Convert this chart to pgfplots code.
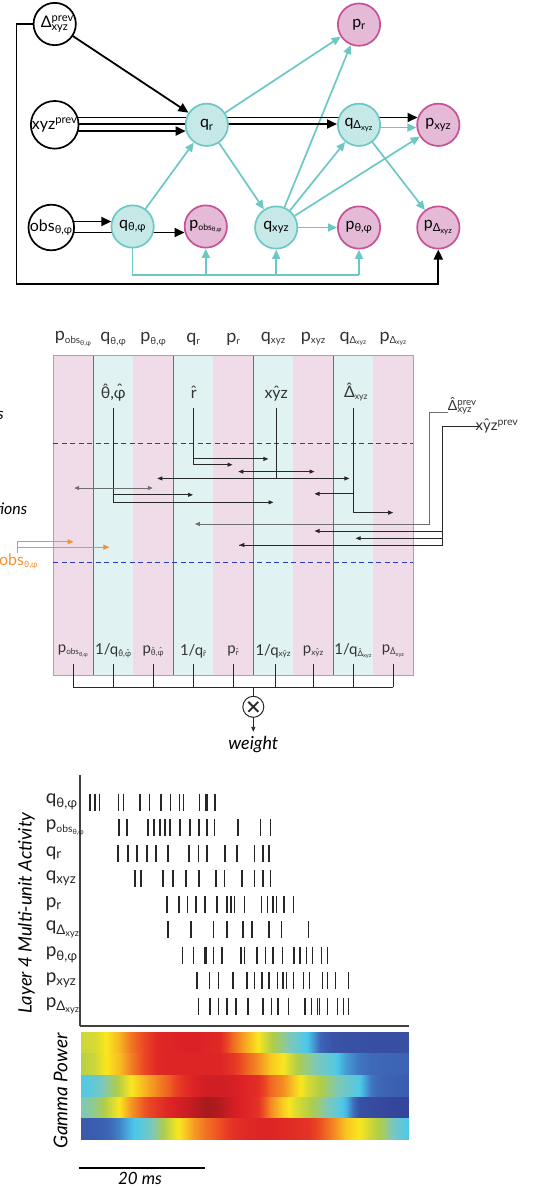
\documentclass[border=0pt]{standalone}
\usepackage{pgfplots}
\pgfplotsset{compat=1.18}
\usepackage{pgfplotstable}
\usepackage{graphicx}
\usetikzlibrary{arrows.meta,shapes.misc}
\usepackage{fontspec}
\setmainfont{Lato}
\newcommand\fs[1]{\fontsize{#1}{#1}\selectfont}
\newcommand\hh[2][0.2em]{\ooalign{#2\cr\hidewidth\raisebox{#1}{ˆ}\hidewidth\cr}}
\newcommand\sub[1]{\textsubscript{#1}}
\newcommand\tsub[1]{\scalebox{0.78}{\textsubscript{#1}}}
\newcommand\sups[1]{\textsuperscript{#1}}

\definecolor{tealline}{RGB}{108,200,198}
\definecolor{tealfill}{RGB}{198,232,230}
\definecolor{pinkline}{RGB}{200,80,150}
\definecolor{pinkfill}{RGB}{228,186,214}
\definecolor{colpink}{RGB}{240,220,232}
\definecolor{colteal}{RGB}{224,242,241}
\definecolor{dashc}{RGB}{40,60,180}
\definecolor{orng}{RGB}{245,145,45}
\definecolor{dk}{RGB}{40,40,40}
\definecolor{gy}{RGB}{110,110,110}

\pgfplotsset{colormap={gp}{rgb255(0pt)=(40,50,135) rgb255(10pt)=(55,75,160) rgb255(20pt)=(62,105,185) rgb255(35pt)=(75,200,235) rgb255(45pt)=(125,200,185) rgb255(52pt)=(175,205,75) rgb255(60pt)=(250,230,30) rgb255(70pt)=(245,150,35) rgb255(80pt)=(235,70,35) rgb255(88pt)=(220,32,38) rgb255(100pt)=(140,22,25)}}

\tikzset{
 gnode/.style={circle, minimum size=42.3bp, inner sep=0pt, line width=1.7bp, font=\fs{16}},
 qn/.style={gnode, draw=tealline, fill=tealfill},
 pn/.style={gnode, draw=pinkline, fill=pinkfill},
 wn/.style={gnode, draw=black, fill=white},
 ghost/.style={circle, minimum size=44bp, inner sep=0pt, outer sep=0pt},
 ta/.style={draw=tealline, line width=1.7bp, -{Triangle[length=9bp,width=8bp,fill=tealline]}},
 ba/.style={draw=black, line width=1.8bp, -{Triangle[length=10bp,width=9bp]}},
 ln/.style={draw=dk, line width=0.9bp},
 sa/.style={ln, -{Triangle[length=5bp,width=4bp]}},
 sd/.style={ln, {Triangle[length=5bp,width=4bp]}-{Triangle[length=5bp,width=4bp]}},
 spk/.style={only marks, mark=|, mark size=8.5bp, mark options={line width=1.1bp, draw=black!85}},
}

\pgfplotstableread{
t r1 r2 r3 r4 r5
0 0.55 0.53 0.36 0.45 0.15
2 0.56 0.55 0.40 0.48 0.16
4 0.60 0.60 0.47 0.53 0.18
6 0.66 0.65 0.53 0.60 0.24
8 0.74 0.73 0.60 0.70 0.33
10 0.80 0.80 0.66 0.78 0.40
12 0.86 0.86 0.72 0.83 0.48
14 0.87 0.87 0.77 0.87 0.55
16 0.88 0.87 0.84 0.90 0.62
18 0.88 0.87 0.88 0.93 0.70
20 0.87 0.87 0.90 0.96 0.75
22 0.86 0.87 0.90 0.94 0.79
24 0.76 0.84 0.89 0.90 0.84
26 0.68 0.77 0.87 0.87 0.86
28 0.60 0.71 0.85 0.84 0.87
30 0.53 0.64 0.76 0.72 0.87
32 0.48 0.60 0.71 0.63 0.86
34 0.42 0.53 0.63 0.57 0.85
36 0.34 0.48 0.56 0.53 0.84
38 0.18 0.43 0.52 0.48 0.78
40 0.13 0.38 0.47 0.42 0.72
42 0.12 0.28 0.42 0.32 0.64
44 0.12 0.22 0.36 0.12 0.60
46 0.11 0.20 0.22 0.10 0.55
48 0.11 0.19 0.18 0.09 0.50
50 0.11 0.18 0.17 0.08 0.42
52 0.12 0.18 0.16 0.08 0.35
}\heat
\pgfplotstablevertcat{\heatdbl}{\heat}
\pgfplotstablevertcat{\heatdbl}{\heat}

\begin{document}
\begin{tikzpicture}
\useasboundingbox (0,0) rectangle (536bp,1188bp);
\begin{axis}[at={(0,0)}, anchor=south west, scale only axis, width=536bp, height=1188bp,
  xmin=0, xmax=536, ymin=0, ymax=1188, y dir=reverse, hide axis, clip=false]
% ---------------- top panel ----------------
\node[ghost] (Dp) at (54.7,24) {};
\node[ghost] (xp) at (54.7,124.8) {};
\node[ghost] (ob) at (51.3,227.5) {};
\node[ghost] (qt) at (132.6,226.5) {};
\node[ghost] (po) at (205.8,226.5) {};
\node[ghost] (qr) at (206.8,124.8) {};
\node[ghost] (qx) at (276.2,227.5) {};
\node[ghost] (pr) at (359,24.6) {};
\node[ghost] (qd) at (359,124.8) {};
\node[ghost] (pt) at (359,227.5) {};
\node[ghost] (px) at (438.3,124.8) {};
\node[ghost] (pd) at (438.3,227.5) {};
\draw[ba] (54.7,24) -| (16.4,283.8) -| (438.3,249.5);
\draw[tealline, line width=1.7bp] (132.6,226.5) |- (359,275.2);
\draw[ta] (205.8,275.2) -- (205.8,248.8);
\draw[ta] (276.2,275.2) -- (276.2,249.8);
\draw[ta] (359,275.2) -- (359,249.8);
\draw[ta] (qt) -- (qr);
\draw[ta] (qr) -- (pr);
\draw[ta] (qr) -- (qx);
\draw[ta] (qx) -- (pr);
\draw[ta] (qx) -- (qd);
\draw[ta] (qx) -- (px);
\draw[ta] (qx) -- (pt);
\draw[ta] (qd) -- (pd);
\draw[ta] (359,127.6) -- (416.4,127.6);
\draw[ba] (Dp) -- (qr);
\draw[ba] (54.7,131) -- (185.7,131);
\draw[ba] (54.7,124) -- (337,124);
\draw[ba] (54.7,117.5) -- (417.5,117.5);
\draw[ba] (51.3,221.5) -- (111.3,221.5);
\draw[ba] (51.3,232.5) -- (184.5,232.5);
\node[wn] at (54.7,24) {Δ\rlap{\sups{prev}}\sub{xyz}};
\node[wn] at (54.7,124.8) {xyz\sups{prev}};
\node[wn] at (51.3,227.5) {obs\sub{θ,φ}};
\node[qn] at (132.6,226.5) {q\sub{θ,φ}};
\node[pn] at (205.8,226.5) {p\tsub{obs\sub{θ,φ}}};
\node[qn] at (206.8,124.8) {q\sub{r}};
\node[qn] at (276.2,227.5) {q\sub{xyz}};
\node[pn] at (359,24.6) {p\sub{r}};
\node[qn] at (359,124.8) {q\sub{Δ\sub{xyz}}};
\node[pn] at (359,227.5) {p\sub{θ,φ}};
\node[pn] at (438.3,124.8) {p\sub{xyz}};
\node[pn] at (438.3,227.5) {p\sub{Δ\sub{xyz}}};
% ---------------- middle panel ----------------
\fill[colpink] (53.3,355) rectangle (93.3,675);
\fill[colteal] (93.3,355) rectangle (133.3,675);
\fill[colpink] (133.3,355) rectangle (173.3,675);
\fill[colteal] (173.3,355) rectangle (213.3,675);
\fill[colpink] (213.3,355) rectangle (253.3,675);
\fill[colteal] (253.3,355) rectangle (293.3,675);
\fill[colpink] (293.3,355) rectangle (333.3,675);
\fill[colteal] (333.3,355) rectangle (373.3,675);
\fill[colpink] (373.3,355) rectangle (413.3,675);
\draw[gy, line width=0.8bp] (93.3,355) -- (93.3,675);
\draw[gy, line width=0.8bp] (173.3,355) -- (173.3,675);
\draw[gy, line width=0.8bp] (253.3,355) -- (253.3,675);
\draw[gy, line width=0.8bp] (333.3,355) -- (333.3,675);
\draw[black!35, line width=0.9bp] (53.3,355) rectangle (413.3,675);
\draw[dashc, line width=0.9bp, dash pattern=on 5bp off 3.5bp] (53.3,443.3) -- (413.3,443.3);
\draw[dashc, line width=0.9bp, dash pattern=on 5bp off 3.5bp] (53.3,562.3) -- (413.3,562.3);
\begin{scope}[every node/.style={font=\fs{18}, text=black!80}]
\node at (73.3,339) {p\tsub{obs\sub{θ,φ}}};
\node at (113.3,339) {q\tsub{θ,φ}};
\node at (153.3,339) {p\tsub{θ,φ}};
\node at (193.3,339) {q\tsub{r}};
\node at (233.3,339) {p\tsub{r}};
\node at (273.3,339) {q\tsub{xyz}};
\node at (313.3,339) {p\tsub{xyz}};
\node at (353.3,339) {q\tsub{Δ\sub{xyz}}};
\node at (393.3,339) {p\tsub{Δ\sub{xyz}}};
\end{scope}
\begin{scope}[every node/.style={font=\fs{16}, text=black!80}]
\node at (113.3,394) {\hh{θ},\hh{φ}};
\node at (193.8,394) {\hh[0.05em]{r}};
\node at (276.2,394) {x\hh[0.05em]{y}z};
\node at (356,394) {\hh{Δ}\tsub{xyz}};
\end{scope}
\draw[ln] (113.3,408) -- (113.3,502.3);
\draw[sa] (113.3,494.8) -- (193,494.8);
\draw[sa] (113.3,502.3) -- (273.5,502.3);
\draw[ln] (193.8,408) -- (193.8,464.7);
\draw[sa] (193.8,458.9) -- (268.4,458.9);
\draw[sa] (193.8,464.7) -- (232.5,464.7);
\draw[ln] (276.2,408) -- (276.2,478.4);
\draw[sd] (238.3,471.6) -- (314.5,471.6);
\draw[sd] (157.3,478.4) -- (349.4,478.4);
\draw[ln] (353.8,408) -- (353.8,512.6);
\draw[sa] (353.8,493.8) -- (314.5,493.8);
\draw[sa] (353.8,512.6) -- (393.2,512.6);
\draw[sd, draw=gy] (74.2,488) -- (152.8,488);
% right inputs
\node[font=\fs{14}, text=black!80] at (460,407) {\hh{Δ}\rlap{\sups{prev}}\sub{xyz}};
\node[font=\fs{15}, text=black!80] at (497,425) {x\hh[0.05em]{y}z\sups{prev}};
\draw[sa, draw=gy] (448.3,412.3) -| (429.3,524) -- (194.9,524);
\draw[ln] (480,426.7) -| (442.7,545) -- (239.3,545);
\draw[sa] (442.7,531) -- (314.5,531);
\draw[sa] (442.7,538.3) -- (355.6,538.3);
\draw[sa] (442.7,545) -- (239.3,545);
% orange observation
\draw[orng, line width=1.1bp] (17.1,553) -- (17.1,541.7);
\draw[orng, line width=1.1bp, -{Triangle[length=6bp,width=5bp]}] (17.1,541.7) -- (73.5,541.7);
\draw[orng, line width=1.1bp, -{Triangle[length=6bp,width=5bp]}] (17.1,547.2) -- (109.4,547.2);
\node[anchor=west, font=\fs{16}, text=orng, inner sep=0pt] at (-1,561.7) {obs\tsub{θ,φ}};
\node[anchor=east, font=\itshape\fs{16}, inner sep=0pt] at (4,415) {s};
\node[anchor=east, font=\itshape\fs{16}, inner sep=0pt] at (27.5,508.3) {tions};
% bottom weight labels
\begin{scope}[every node/.style={font=\fs{15}, text=black!80, inner sep=0pt}]
\node at (73.3,651) {p\tsub{obs\sub{θ,φ}}};
\node at (113.3,651) {1/q\tsub{\hh{θ},\hh{φ}}};
\node at (153.3,651) {p\tsub{\hh{θ},\hh{φ}}};
\node at (193.3,651) {1/q\tsub{\hh[0.05em]{r}}};
\node at (233.3,651) {p\tsub{\hh[0.05em]{r}}};
\node at (273.3,651) {1/q\tsub{x\hh[0.05em]{y}z}};
\node at (313.3,651) {p\tsub{x\hh[0.05em]{y}z}};
\node at (353.3,651) {1/q\tsub{\hh{Δ}\sub{xyz}}};
\node at (393.3,651) {p\tsub{\hh{Δ}\sub{xyz}}};
\end{scope}
\draw[ln] (73.3,664) -- (73.3,687);
\draw[ln] (113.3,664) -- (113.3,687);
\draw[ln] (153.3,664) -- (153.3,687);
\draw[ln] (193.3,664) -- (193.3,687);
\draw[ln] (233.3,664) -- (233.3,687);
\draw[ln] (275,664) -- (275,687);
\draw[ln] (313.3,664) -- (313.3,687);
\draw[ln] (353.3,664) -- (353.3,687);
\draw[ln] (393.3,664) -- (393.3,687);
\draw[ln] (73.3,687) -- (393.3,687);
\draw[ln] (253.3,687) -- (253.3,696.2);
\node[circle, draw=dk, line width=1bp, minimum size=21bp, inner sep=0pt] at (253.3,706.8) {};
\node[draw=dk, cross out, line width=1.9bp, minimum size=8bp, inner sep=0pt] at (253.3,706.8) {};
\draw[sa] (253.3,717.4) -- (253.3,731.8);
\node[font=\itshape\fs{18}] at (253.3,744.5) {weight};
% ---------------- bottom labels ----------------
\node[rotate=90, font=\itshape\fs{18.5}] at (26.5,913) {Layer 4 Multi-unit Activity};
\node[rotate=90, font=\itshape\fs{19}] at (60.5,1091) {Gamma Power};
\draw[black, line width=1.6bp] (78.6,1167.7) -- (205,1167.7);
\node[font=\itshape\fs{17}] at (140,1178.5) {20 ms};
\end{axis}

% ---------------- raster ----------------
\begin{axis}[at={(80bp,413bp)}, anchor=north west, scale only axis, width=329bp, height=251bp,
  xmin=0, xmax=52, ymin=0.217, ymax=10.06, axis x line*=bottom, axis y line*=left,
  axis line style={-, line width=1.3bp, draw=black!75}, xtick=\empty, ytick={1,...,9},
  yticklabels={p\sub{Δ\sub{xyz}}, p\sub{xyz}, p\sub{θ,φ}, q\sub{Δ\sub{xyz}}, p\sub{r}, q\sub{xyz}, q\sub{r}, p\tsub{obs\sub{θ,φ}}, q\sub{θ,φ}},
  major tick length=0pt, yticklabel style={font=\fs{19}, text width=34bp, align=left, inner sep=0pt, text=black!85},
  clip=false]
\addplot[spk] coordinates {(1.58,9)(2.37,9)(3.05,9)(6.06,9)(6.85,9)(9.49,9)(10.96,9)(12.81,9)(14.34,9)(15.70,9)(16.33,9)(18.86,9)(19.92,9)(20.19,9)(21.34,9)};
\addplot[spk] coordinates {(6.17,8)(7.43,8)(10.75,8)(11.70,8)(12.65,8)(13.44,8)(14.23,8)(15.81,8)(17.39,8)(18.81,8)(20.08,8)(21.19,8)(24.98,8)(28.46,8)(30.04,8)};
\addplot[spk] coordinates {(6.01,7)(7.59,7)(9.01,7)(10.59,7)(12.02,7)(13.91,7)(17.23,7)(18.66,7)(20.08,7)(22.92,7)(24.82,7)(27.51,7)(28.93,7)(29.88,7)};
\addplot[spk] coordinates {(8.70,6)(9.64,6)(13.12,6)(14.70,6)(16.76,6)(18.81,6)(21.50,6)(22.77,6)(25.61,6)(27.51,6)(28.93,6)(30.04,6)};
\addplot[spk] coordinates {(13.75,5)(15.65,5)(16.92,5)(18.34,5)(19.76,5)(21.66,5)(23.24,5)(23.87,5)(24.35,5)(25.93,5)(28.62,5)(29.57,5)(30.51,5)(30.99,5)(32.25,5)(33.68,5)};
\addplot[spk] coordinates {(13.91,4)(17.55,4)(21.03,4)(23.24,4)(25.77,4)(27.19,4)(29.88,4)(31.78,4)(36.05,4)};
\addplot[spk] coordinates {(16.13,3)(17.87,3)(19.76,3)(19.92,3)(21.03,3)(22.45,3)(25.45,3)(25.93,3)(27.83,3)(28.06,3)(29.25,3)(30.51,3)(31.94,3)(33.83,3)(34.78,3)(35.73,3)(36.68,3)(38.10,3)(39.05,3)};
\addplot[spk] coordinates {(18.50,2)(20.40,2)(21.82,2)(24.19,2)(26.40,2)(27.51,2)(28.77,2)(29.88,2)(31.15,2)(32.09,2)(32.57,2)(33.68,2)(35.26,2)(36.21,2)(38.26,2)(39.05,2)(40.32,2)(42.37,2)};
\addplot[spk] coordinates {(18.66,1)(20.55,1)(21.82,1)(23.24,1)(24.66,1)(26.56,1)(28.93,1)(30.20,1)(31.30,1)(32.89,1)(35.57,1)(36.52,1)(37.47,1)(37.79,1)(39.05,1)(40.63,1)(41.58,1)(42.37,1)};
\end{axis}

% ---------------- gamma heatmap ----------------
\begin{axis}[at={(81bp,156.3bp)}, anchor=north west, scale only axis, width=328bp, height=108.3bp,
  xmin=0, xmax=52, ymin=0, ymax=5, hide axis, colormap name=gp, point meta min=0, point meta max=1]
\addplot[surf, shader=interp, point meta=explicit, mesh/rows=2, mesh/cols=27] table[x=t, y expr={4+(\coordindex>26)}, meta=r1] {\heatdbl};
\addplot[surf, shader=interp, point meta=explicit, mesh/rows=2, mesh/cols=27] table[x=t, y expr={3+(\coordindex>26)}, meta=r2] {\heatdbl};
\addplot[surf, shader=interp, point meta=explicit, mesh/rows=2, mesh/cols=27] table[x=t, y expr={2+(\coordindex>26)}, meta=r3] {\heatdbl};
\addplot[surf, shader=interp, point meta=explicit, mesh/rows=2, mesh/cols=27] table[x=t, y expr={1+(\coordindex>26)}, meta=r4] {\heatdbl};
\addplot[surf, shader=interp, point meta=explicit, mesh/rows=2, mesh/cols=27] table[x=t, y expr={0+(\coordindex>26)}, meta=r5] {\heatdbl};
\end{axis}
\end{tikzpicture}
\end{document}
